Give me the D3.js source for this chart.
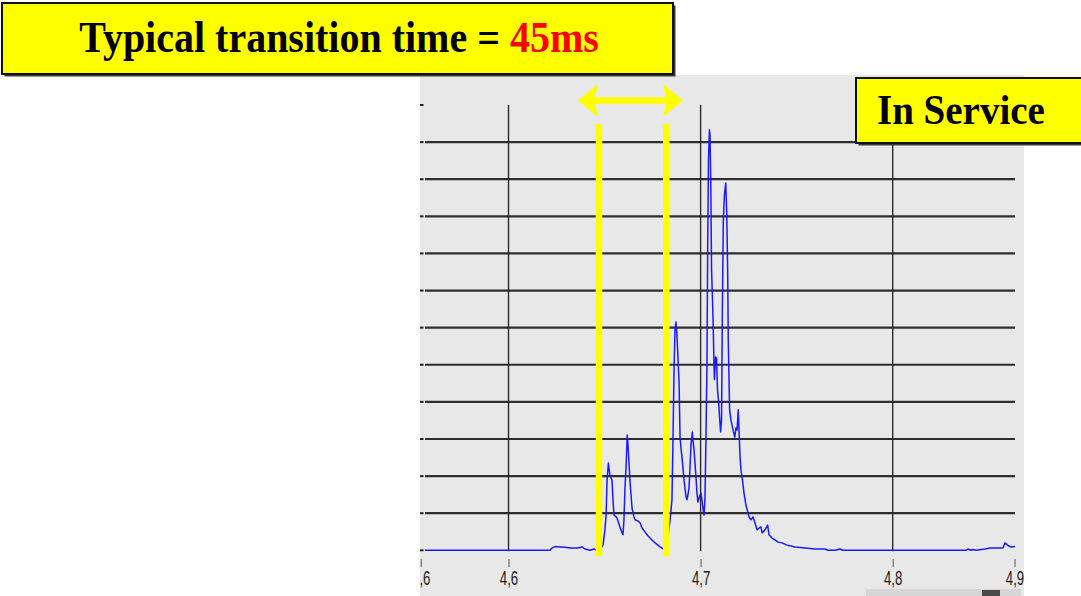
<!DOCTYPE html>
<html><head><meta charset="utf-8">
<script src="https://cdn.jsdelivr.net/npm/d3@7"></script>
<style>html,body{margin:0;padding:0;background:#fff;} svg{display:block;}</style>
</head><body><svg id="c" width="1081" height="596"></svg>
<script>
// ---- data (time in s, amplitude in grid units) ----
const times = [4.5565,4.5956,4.6216,4.6226,4.6242,4.6268,4.6294,4.6320,4.6362,4.6383,4.6398,4.6424,4.6445,4.6461,4.6476,
4.6492,4.6502,4.6508,4.6513,4.6520,4.6523,4.6528,4.6539,4.6544,4.6549,4.6560,4.6565,4.6580,4.6591,4.6596,4.6601,4.6606,4.6612,4.6618,
4.6622,4.6627,4.6632,4.6638,4.6643,4.6653,4.6659,4.6674,4.6685,4.6695,4.6711,4.6726,4.6737,4.6752,4.6763,4.6778,4.6789,4.6799,4.6815,
4.6825,4.6830,4.6841,4.6851,4.6856,4.6862,4.6867,4.6872,4.6877,4.6882,4.6888,4.6893,4.6898,4.6903,4.6914,4.6924,4.6929,4.6934,4.6940,
4.6945,4.6950,4.6957,4.6960,4.6966,4.6976,4.6981,4.6986,4.6992,4.6997,4.7002,4.7007,4.7012,4.7018,4.7023,4.7028,4.7033,4.7037,4.7041,
4.7046,4.7049,4.7053,4.7057,4.7062,4.7066,4.7070,4.7072,4.7078,4.7083,4.7088,4.7093,4.7098,4.7104,4.7109,4.7113,4.7118,4.7124,4.7131,
4.7136,4.7141,4.7144,4.7148,4.7151,4.7158,4.7169,4.7178,4.7184,4.7190,4.7196,4.7200,4.7205,4.7210,4.7218,4.7226,4.7236,4.7252,4.7262,
4.7273,4.7283,4.7294,4.7304,4.7314,4.7320,4.7335,4.7349,4.7356,4.7372,4.7387,4.7403,4.7424,4.7450,4.7465,4.7491,4.7544,4.7596,4.7648,
4.7663,4.7700,4.7726,4.7741,4.7830,4.8038,4.8246,4.8382,4.8392,4.8408,4.8418,4.8434,4.8480,4.8507,4.8574,4.8585,4.8600,4.8616,4.8637];
const values = [0,0,0,0.06,0.10,0.09,0.08,0.06,0.06,0.09,0.035,0,0.035,0,0,
0.14,0.55,0.95,1.89,2.35,2.21,2.03,1.89,1.36,0.95,0.90,0.87,0.63,0.47,0.42,0.82,1.63,2.25,3.11,
2.84,2.38,1.89,1.49,1.14,0.90,0.82,0.79,0.74,0.60,0.49,0.39,0.33,0.25,0.20,0.14,0.09,0.06,0,
0.17,0.36,0.82,1.36,2.89,4.94,5.94,6.15,5.80,5.21,4.51,3.05,2.76,2.51,1.89,1.44,1.36,1.49,1.71,
2.25,2.84,3.19,2.97,2.70,1.98,1.54,1.30,1.41,1.49,1.54,1.36,1.14,0.95,1.44,3.05,4.94,8.28,10.52,
11.33,11.19,9.90,7.56,6.75,5.94,4.94,4.60,5.21,5.18,4.32,4.05,3.65,3.19,3.51,6.24,8.85,9.58,9.90,
9.09,7.50,5.67,4.60,3.79,3.51,3.24,3.05,3.30,3.24,3.79,3.24,2.57,2.16,1.89,1.54,1.22,0.90,0.82,
0.90,0.74,0.55,0.60,0.63,0.47,0.55,0.68,0.42,0.33,0.28,0.22,0.20,0.14,0.12,0.09,0.06,0.035,0.035,
0,0,0.035,0,0,0,0,0,0.035,0,0.02,0,0.035,0.06,0.06,0.20,0.13,0.09,0.10];
const xTickValues = [4.5543, 4.6, 4.7, 4.8, 4.8634];
const xGridValues = [4.6, 4.7, 4.8];
const yTickValues = [0,1,2,3,4,5,6,7,8,9,10,11,12];
const yGridValues = [1,2,3,4,5,6,7,8,9,10,11];
const transitionMarks = [4.6471, 4.6821];
const arrowSpan = [4.6362, 4.6908];
const titleParts = ["Typical transition time = ", "45ms"];
const stateLabel = "In Service";

// ---- drawing ----
const svg = d3.select("#c");
const x = d3.scaleLinear().domain([4.6, 4.8]).range([508.5, 892.7]);
const y = d3.scaleLinear().domain([0, 12]).range([550.3, 105]);

svg.append("rect").attr("x",0).attr("y",0).attr("width",1081).attr("height",596).attr("fill","#ffffff");
// plot panel
svg.append("rect").attr("x",420).attr("y",75).attr("width",604).attr("height",521).attr("fill","#e8e8e8");
svg.append("defs").append("clipPath").attr("id","pclip")
  .append("rect").attr("x",420).attr("y",75).attr("width",604).attr("height",521);

// horizontal grid
svg.append("g").selectAll("line").data(yGridValues).join("line")
  .attr("x1",425).attr("x2",1015).attr("y1",d=>y(d)).attr("y2",d=>y(d))
  .attr("stroke","#1a1a1a").attr("stroke-width",2.2).attr("stroke-opacity",0.9);
// vertical grid
svg.append("g").selectAll("line").data(xGridValues).join("line")
  .attr("x1",d=>x(d)).attr("x2",d=>x(d)).attr("y1",y(12)).attr("y2",y(0)+1)
  .attr("stroke","#2a2a2a").attr("stroke-width",1.4);
// y tick marks
svg.append("g").selectAll("line").data(yTickValues).join("line")
  .attr("x1",420).attr("x2",423.5).attr("y1",d=>y(d)).attr("y2",d=>y(d))
  .attr("stroke","#222").attr("stroke-width",2);

// x axis
const ax = svg.append("g").attr("clip-path","url(#pclip)").append("g")
  .attr("transform","translate(0,559)")
  .call(d3.axisBottom(x).tickValues(xTickValues).tickSize(8).tickPadding(4)
    .tickFormat(d => d3.format(".1f")(d).replace(".", ",")));
ax.select(".domain").remove();
ax.selectAll(".tick line").attr("stroke","#555").attr("stroke-width",1);
ax.selectAll(".tick text").attr("fill","#1a1a1a")
  .attr("font-family","'Liberation Sans', Arial, sans-serif").attr("font-size",20)
  .attr("transform","scale(0.66,1)");

// signal
const pts = times.map((t,i)=>[t, values[i]]);
svg.append("path").datum(pts)
  .attr("d", d3.line().x(d=>x(d[0])).y(d=>y(d[1])))
  .attr("fill","none").attr("stroke","#1a1aff").attr("stroke-width",1.5)
  .attr("stroke-linejoin","round");

// transition markers
svg.append("g").selectAll("line").data(transitionMarks).join("line")
  .attr("x1",d=>x(d)).attr("x2",d=>x(d)).attr("y1",124).attr("y2",556)
  .attr("stroke","#ffff00").attr("stroke-width",6.5);
// double arrow
const ax0 = x(arrowSpan[0]), ax1 = x(arrowSpan[1]), ay = 100.5;
svg.append("path")
  .attr("d", `M${ax0},${ay} L${ax0+20},${ay-16.5} L${ax0+17},${ay-3.3} L${ax1-17},${ay-3.3} L${ax1-20},${ay-16.5} L${ax1},${ay} L${ax1-20},${ay+16.5} L${ax1-17},${ay+3.3} L${ax0+17},${ay+3.3} L${ax0+20},${ay+16.5} Z`)
  .attr("fill","#ffff00");

// scroll bar remnant bottom right
svg.append("rect").attr("x",866).attr("y",589).attr("width",155).attr("height",7).attr("fill","#d6d6d6");
svg.append("rect").attr("x",982).attr("y",590).attr("width",18).attr("height",6).attr("fill","#4a4a4a");

// title box
function box(x0,y0,w,h){
  svg.append("rect").attr("x",x0+2.5).attr("y",y0+2.5).attr("width",w).attr("height",h).attr("fill","#3a3a3a");
  svg.append("rect").attr("x",x0).attr("y",y0).attr("width",w).attr("height",h)
    .attr("fill","#ffff00").attr("stroke","#111").attr("stroke-width",2);
}
box(2,3,671,71);
const tt = svg.append("text").attr("text-anchor","middle")
  .attr("transform","translate(339,52) scale(1,1.1)")
  .attr("font-family","'Liberation Serif','Times New Roman',serif").attr("font-weight","bold").attr("font-size",40);
tt.append("tspan").attr("fill","#000").text(titleParts[0]);
tt.append("tspan").attr("fill","#ff0000").text(titleParts[1]);

box(856,78,240,65);
svg.append("text").attr("transform","translate(877,124) scale(1,1.08)")
  .attr("font-family","'Liberation Serif','Times New Roman',serif").attr("font-weight","bold").attr("font-size",39)
  .attr("fill","#000").text(stateLabel);
</script></body></html>
